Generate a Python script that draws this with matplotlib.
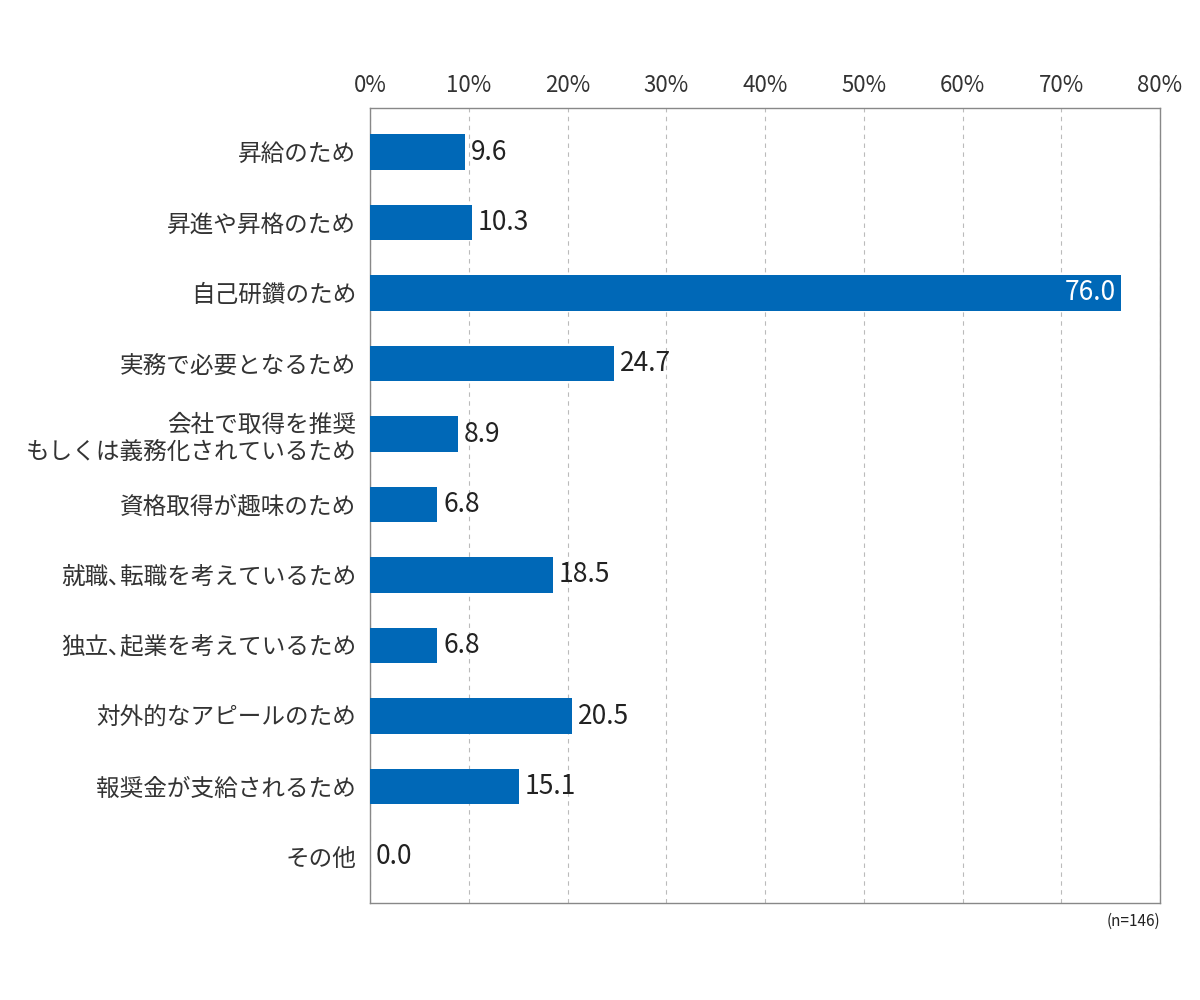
import matplotlib
matplotlib.use("Agg")
import matplotlib.pyplot as plt
from matplotlib.ticker import MultipleLocator, FuncFormatter

plt.rcParams['font.family'] = ['Noto Sans CJK JP', 'DejaVu Sans']

categories = [
    "昇給のため",
    "昇進や昇格のため",
    "自己研鑽のため",
    "実務で必要となるため",
    "会社で取得を推奨\nもしくは義務化されているため",
    "資格取得が趣味のため",
    "就職､転職を考えているため",
    "独立､起業を考えているため",
    "対外的なアピールのため",
    "報奨金が支給されるため",
    "その他",
]
values = [9.6, 10.3, 76.0, 24.7, 8.9, 6.8, 18.5, 6.8, 20.5, 15.1, 0.0]
note = "(n=146)"

bar_color = "#0068B7"

fig = plt.figure(figsize=(12, 10), dpi=100)
ax = fig.add_axes([370/1200, 1 - 903/1000, 790/1200, 795/1000])

y = list(range(len(categories)))
ax.barh(y, values, height=0.5, color=bar_color, zorder=3)

ax.set_xlim(0, 80)
ax.set_ylim(10 + 46/70.5, -44/70.5)
ax.xaxis.set_major_locator(MultipleLocator(10))
ax.xaxis.set_major_formatter(FuncFormatter(lambda v, p: f"{int(v)}%"))
ax.xaxis.tick_top()
ax.tick_params(axis='x', length=0, pad=8, labelsize=16, labelcolor="#333333")
ax.set_yticks(y)
ax.set_yticklabels(categories, fontsize=17, color="#333333", linespacing=1.25)
ax.tick_params(axis='y', length=0, pad=10)

ax.grid(axis='x', linestyle=(0, (4, 4)), color="#bbbbbb", linewidth=0.8, zorder=0)
for s in ax.spines.values():
    s.set_color("#888888")
    s.set_linewidth(1.0)

for yi, v in zip(y, values):
    if v > 60:
        ax.text(v - 0.5, yi, f"{v:.1f}", va='center', ha='right', color='white', fontsize=19, zorder=4)
    else:
        ax.text(v + 0.6, yi, f"{v:.1f}", va='center', ha='left', color='#222222', fontsize=19, zorder=4)

fig.text(1160/1200, 1 - 921/1000, note, ha='right', va='center', fontsize=11, color='#222222')

fig.savefig("out.png", dpi=100)
